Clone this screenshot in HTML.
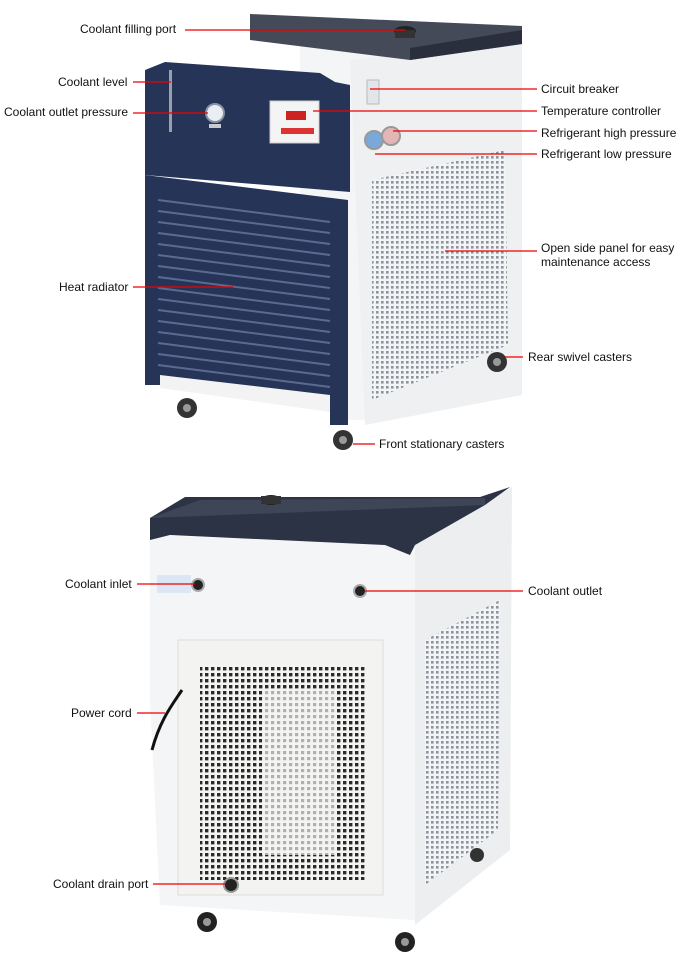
<!DOCTYPE html>
<html><head><meta charset="utf-8"><style>
html,body{margin:0;padding:0;background:#fff;}
svg{display:block}
text{font-family:"Liberation Sans",Arial,sans-serif;font-size:12px;fill:#111}
</style></head><body>
<svg width="679" height="964" viewBox="0 0 679 964" xmlns="http://www.w3.org/2000/svg">
<defs>
<pattern id="perf" width="5" height="5" patternUnits="userSpaceOnUse"><rect width="5" height="5" fill="#f2f4f6"/><rect x="1" y="1" width="2.6" height="2.6" fill="#8d949c"/></pattern>
<pattern id="perf2" width="6" height="6" patternUnits="userSpaceOnUse"><rect width="6" height="6" fill="#f4f4f2"/><rect x="1" y="1" width="3.4" height="3.4" fill="#2a2a2a"/></pattern>
<pattern id="perf3" width="6" height="6" patternUnits="userSpaceOnUse"><rect width="6" height="6" fill="#f4f4f2"/><rect x="1" y="1" width="3.2" height="3.2" fill="#b0b0b0"/></pattern>
</defs>

<!-- ===== TOP UNIT ===== -->
<polygon points="300,40 522,30 522,395 380,420 350,420 300,390" fill="#f3f5f7"/>
<polygon points="350,60 522,42 522,395 365,425" fill="#eef0f2"/>
<!-- lid -->
<polygon points="250,14 522,26 522,44 410,60 250,40" fill="#454a58"/>
<polygon points="410,60 522,44 522,30 410,48" fill="#2a2f3d"/>
<ellipse cx="405" cy="31" rx="11" ry="5" fill="#222"/>
<rect x="395" y="30" width="20" height="8" fill="#333"/>
<!-- upper front dark panel -->
<polygon points="145,70 165,62 320,73 335,82 350,85 350,192 145,175" fill="#263458"/>
<rect x="169" y="70" width="3" height="62" fill="#9aa0ab"/>
<circle cx="215" cy="113" r="9" fill="#e8eef4" stroke="#8892a0" stroke-width="2"/>
<rect x="209" y="124" width="12" height="4" fill="#c8ccd2"/>
<rect x="270" y="101" width="49" height="42" fill="#f4f4f4" stroke="#ccc"/>
<rect x="286" y="111" width="20" height="9" fill="#c22"/>
<rect x="281" y="128" width="33" height="6" fill="#d33"/>
<rect x="367" y="80" width="12" height="24" fill="#e2e6ea" stroke="#bbb"/>
<circle cx="374" cy="140" r="9" fill="#7aa8d8" stroke="#999" stroke-width="2"/>
<circle cx="391" cy="136" r="9" fill="#e3b5b5" stroke="#999" stroke-width="2"/>
<!-- side perforated panel -->
<polygon points="372,180 505,150 508,345 372,400" fill="url(#perf)"/>
<!-- radiator panel -->
<polygon points="145,175 348,200 348,425 330,425 330,410 160,385 145,385" fill="#263458"/>
<polygon points="160,375 330,395 330,412 160,388" fill="#f3f3f3"/>
<g stroke="#5a6a90" stroke-width="2">
<line x1="158" y1="200" x2="330" y2="222"/><line x1="158" y1="211" x2="330" y2="233"/>
<line x1="158" y1="222" x2="330" y2="244"/><line x1="158" y1="233" x2="330" y2="255"/>
<line x1="158" y1="244" x2="330" y2="266"/><line x1="158" y1="255" x2="330" y2="277"/>
<line x1="158" y1="266" x2="330" y2="288"/><line x1="158" y1="277" x2="330" y2="299"/>
<line x1="158" y1="288" x2="330" y2="310"/><line x1="158" y1="299" x2="330" y2="321"/>
<line x1="158" y1="310" x2="330" y2="332"/><line x1="158" y1="321" x2="330" y2="343"/>
<line x1="158" y1="332" x2="330" y2="354"/><line x1="158" y1="343" x2="330" y2="365"/>
<line x1="158" y1="354" x2="330" y2="376"/><line x1="158" y1="365" x2="330" y2="387"/>
</g>
<circle cx="187" cy="408" r="10" fill="#333"/><circle cx="187" cy="408" r="4" fill="#999"/>
<circle cx="343" cy="440" r="10" fill="#333"/><circle cx="343" cy="440" r="4" fill="#999"/>
<circle cx="497" cy="362" r="10" fill="#333"/><circle cx="497" cy="362" r="4" fill="#999"/>

<g stroke="#e00" stroke-width="1.2">
<line x1="185" y1="30" x2="405" y2="30"/>
<line x1="133" y1="82" x2="171" y2="82"/>
<line x1="133" y1="113" x2="208" y2="113"/>
<line x1="370" y1="89" x2="537" y2="89"/>
<line x1="313" y1="111" x2="537" y2="111"/>
<line x1="393" y1="131" x2="537" y2="131"/>
<line x1="375" y1="154" x2="537" y2="154"/>
<line x1="445" y1="251" x2="537" y2="251"/>
<line x1="133" y1="287" x2="233" y2="287"/>
<line x1="505" y1="357" x2="523" y2="357"/>
<line x1="353" y1="444" x2="375" y2="444"/>
</g>
<text x="80" y="33">Coolant filling port</text>
<text x="58" y="86">Coolant level</text>
<text x="4" y="116">Coolant outlet pressure</text>
<text x="541" y="93">Circuit breaker</text>
<text x="541" y="115">Temperature controller</text>
<text x="541" y="137">Refrigerant high pressure</text>
<text x="541" y="158">Refrigerant low pressure</text>
<text x="541" y="252">Open side panel for easy</text>
<text x="541" y="266">maintenance access</text>
<text x="59" y="291">Heat radiator</text>
<text x="528" y="361">Rear swivel casters</text>
<text x="379" y="448">Front stationary casters</text>

<!-- ===== BOTTOM UNIT ===== -->
<polygon points="150,535 415,545 415,920 160,905 150,700" fill="#f4f5f6"/>
<polygon points="415,545 512,487 510,850 415,925" fill="#eceef0"/>
<polygon points="185,497 480,497 510,487 485,505 415,545 410,555 385,545 170,535 150,540 150,518" fill="#2c3345"/>
<polygon points="150,518 485,505 485,498 200,500" fill="#3e4556"/>
<ellipse cx="271" cy="500" rx="10" ry="5" fill="#222"/><rect x="261" y="496" width="20" height="8" fill="#333"/>
<rect x="157" y="575" width="34" height="18" fill="#dde6f4"/>
<circle cx="198" cy="585" r="6" fill="#222" stroke="#aaa" stroke-width="2"/>
<circle cx="360" cy="591" r="6" fill="#222" stroke="#aaa" stroke-width="2"/>
<rect x="178" y="640" width="205" height="255" fill="#f3f3f1" stroke="#ddd"/>
<rect x="200" y="665" width="165" height="215" fill="url(#perf2)"/>
<rect x="262" y="690" width="75" height="165" fill="url(#perf3)"/>
<polygon points="425,640 500,600 498,830 425,885" fill="url(#perf)"/>
<path d="M182,690 C172,705 160,720 152,750" stroke="#111" stroke-width="3" fill="none"/>
<circle cx="231" cy="885" r="7" fill="#222" stroke="#999" stroke-width="2"/>
<circle cx="207" cy="922" r="10" fill="#222"/><circle cx="207" cy="922" r="4" fill="#999"/>
<circle cx="405" cy="942" r="10" fill="#222"/><circle cx="405" cy="942" r="4" fill="#999"/>
<circle cx="477" cy="855" r="7" fill="#333"/>

<g stroke="#e00" stroke-width="1.2">
<line x1="137" y1="584" x2="195" y2="584"/>
<line x1="365" y1="591" x2="523" y2="591"/>
<line x1="137" y1="713" x2="165" y2="713"/>
<line x1="153" y1="884" x2="225" y2="884"/>
</g>
<text x="65" y="588">Coolant inlet</text>
<text x="528" y="595">Coolant outlet</text>
<text x="71" y="717">Power cord</text>
<text x="53" y="888">Coolant drain port</text>
</svg>
</body></html>
